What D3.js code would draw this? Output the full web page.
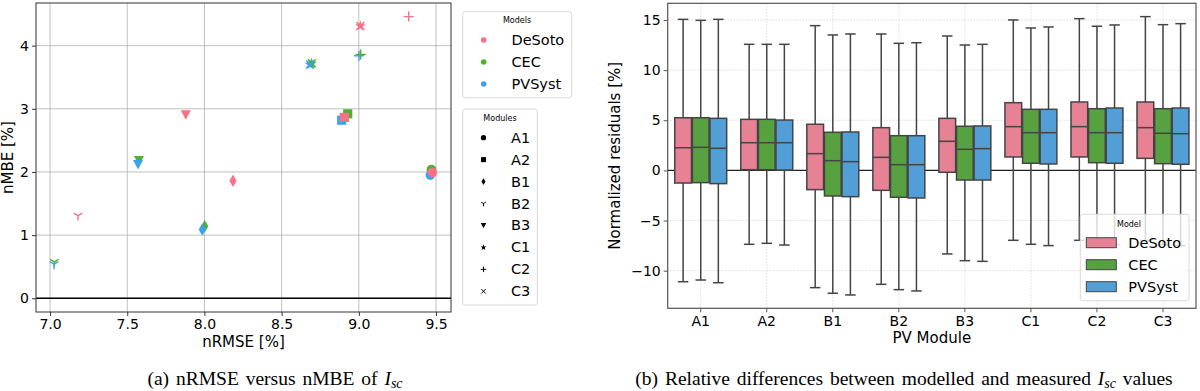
<!DOCTYPE html>
<html><head><meta charset="utf-8">
<script src="https://cdn.jsdelivr.net/npm/d3@7"></script>
<style>
html,body{margin:0;padding:0;background:#fff;}
svg{display:block;}
text{font-family:"DejaVu Sans",sans-serif;}
text.cap{font-family:"Liberation Serif","Times New Roman",serif;}
</style></head><body>
<svg id="chart" width="1200" height="391"></svg>
<script>
// ---------- DATA ----------
const modules = ["A1","A2","B1","B2","B3","C1","C2","C3"];
const models = ["DeSoto","CEC","PVSyst"];

// Left panel: nRMSE vs nMBE
const nrmseDeSoto = [9.476, 8.906, 8.185, 7.181, 7.879, 9.010, 9.323, 9.010];
const nmbeDeSoto  = [1.99, 2.864, 1.86, 1.31, 2.905, 4.31, 4.46, 4.31];
const nrmseCEC    = [9.470, 8.928, 8.002, 7.028, 7.576, 8.695, 9.012, 8.695];
const nmbeCEC     = [2.04, 2.92, 1.14, 0.575, 2.18, 3.72, 3.86, 3.72];
const nrmsePVSyst = [9.463, 8.889, 7.986, 7.026, 7.570, 8.684, 9.001, 8.684];
const nmbePVSyst  = [1.95, 2.82, 1.09, 0.54, 2.12, 3.70, 3.84, 3.70];
const xTicksLeft = [7.0, 7.5, 8.0, 8.5, 9.0, 9.5];
const yTicksLeft = [0, 1, 2, 3, 4];

// Right panel: box plot statistics per module
const whisLoDeSoto = [-11.1, -7.37, -11.69, -11.36, -8.33, -6.97, -6.97, -7.0];
const q1DeSoto     = [-1.26, 0.07, -1.92, -1.99, -0.19, 1.34, 1.34, 1.2];
const medDeSoto    = [2.26, 2.76, 1.67, 1.3, 2.9, 4.36, 4.36, 4.26];
const q3DeSoto     = [5.25, 5.09, 4.6, 4.26, 5.19, 6.75, 6.82, 6.82];
const whisHiDeSoto = [15.06, 12.57, 14.43, 13.6, 13.4, 15.0, 15.13, 15.33];

const whisLoCEC = [-10.93, -7.27, -12.25, -11.89, -9.0, -7.37, -7.3, -7.4];
const q1CEC     = [-1.22, 0.07, -2.55, -2.68, -0.96, 0.71, 0.77, 0.67];
const medCEC    = [2.3, 2.76, 0.97, 0.57, 2.1, 3.76, 3.76, 3.7];
const q3CEC     = [5.25, 5.09, 3.8, 3.46, 4.4, 6.09, 6.15, 6.15];
const whisHiCEC = [14.96, 12.57, 13.5, 12.67, 12.5, 14.2, 14.37, 14.53];

const whisLoPVSyst = [-11.2, -7.44, -12.42, -12.02, -9.07, -7.5, -7.4, -7.5];
const q1PVSyst     = [-1.32, 0.03, -2.62, -2.75, -0.96, 0.64, 0.71, 0.61];
const medPVSyst    = [2.2, 2.76, 0.87, 0.57, 2.17, 3.76, 3.76, 3.66];
const q3PVSyst     = [5.19, 5.02, 3.83, 3.46, 4.43, 6.09, 6.22, 6.22];
const whisHiPVSyst = [15.06, 12.57, 13.6, 12.73, 12.57, 14.3, 14.5, 14.63];
const yTicksRight = [-10, -5, 0, 5, 10, 15];

// ---------- STYLE ----------
const pointColor = {DeSoto:"#f77189", CEC:"#50b131", PVSyst:"#3ba3ec"};
const boxColor = {DeSoto:"#e68294", CEC:"#58a141", PVSyst:"#519fd6"};

const svg = d3.select("#chart");

// ================= LEFT PANEL =================
const L = {left:36, right:451, top:3, bottom:312};
const xL = d3.scaleLinear().domain([6.909, 9.597]).range([L.left, L.right]);
const yL = d3.scaleLinear().domain([-0.217, 4.675]).range([L.bottom, L.top]);
const gL = svg.append("g");

// grid
gL.append("g").selectAll("line").data(xTicksLeft).join("line")
  .attr("x1", d=>xL(d)).attr("x2", d=>xL(d)).attr("y1", L.top).attr("y2", L.bottom)
  .attr("stroke", "#b0b0b0").attr("stroke-width", 0.8);
gL.append("g").selectAll("line").data(yTicksLeft).join("line")
  .attr("x1", L.left).attr("x2", L.right).attr("y1", d=>yL(d)).attr("y2", d=>yL(d))
  .attr("stroke", "#b0b0b0").attr("stroke-width", 0.8);
// zero line
gL.append("line").attr("x1", L.left).attr("x2", L.right).attr("y1", yL(0)).attr("y2", yL(0))
  .attr("stroke", "#000").attr("stroke-width", 1.4);

// axes
const axXL = gL.append("g").attr("transform", `translate(0,${L.bottom})`)
  .call(d3.axisBottom(xL).tickValues(xTicksLeft).tickFormat(d3.format(".1f")).tickSize(4).tickPadding(3));
const axYL = gL.append("g").attr("transform", `translate(${L.left},0)`)
  .call(d3.axisLeft(yL).tickValues(yTicksLeft).tickFormat(d3.format("d")).tickSize(4).tickPadding(3));
[axXL, axYL].forEach(a => {
  a.select(".domain").remove();
  a.selectAll("text").attr("font-size", 14).attr("fill", "#000");
  a.selectAll("line").attr("stroke", "#333");
});
gL.append("rect").attr("x", L.left).attr("y", L.top).attr("width", L.right-L.left).attr("height", L.bottom-L.top)
  .attr("fill", "none").attr("stroke", "#333").attr("stroke-width", 1);

gL.append("text").attr("x", (L.left+L.right)/2).attr("y", 347).attr("text-anchor", "middle")
  .attr("font-size", 15).text("nRMSE [%]");
gL.append("text").attr("transform", `translate(13,${(L.top+L.bottom)/2}) rotate(-90)`).attr("text-anchor", "middle")
  .attr("font-size", 15).text("nMBE [%]");

// marker shapes
function markerPath(mod, s) {
  const p = d3.path();
  switch (mod) {
    case "A1": p.arc(0,0,4.8*s,0,2*Math.PI); break;
    case "A2": p.rect(-4.6*s,-4.6*s,9.2*s,9.2*s); break;
    case "B1": p.moveTo(0,-6.2*s); p.lineTo(3.6*s,0); p.lineTo(0,6.2*s); p.lineTo(-3.6*s,0); p.closePath(); break;
    case "B3": p.moveTo(-5*s,-4.5*s); p.lineTo(5*s,-4.5*s); p.lineTo(0,5*s); p.closePath(); break;
    case "C1": {
      for (let i=0;i<10;i++){
        const r = (i%2===0)?5.6*s:2.3*s;
        const a = -Math.PI/2 + i*Math.PI/5;
        if(i===0) p.moveTo(r*Math.cos(a), r*Math.sin(a)); else p.lineTo(r*Math.cos(a), r*Math.sin(a));
      }
      p.closePath(); break;
    }
    default: break;
  }
  return p.toString();
}
function linePath(mod, s) {
  const p = d3.path();
  if (mod === "B2") {
    const r = 5*s;
    p.moveTo(0,0); p.lineTo(0,r);
    p.moveTo(0,0); p.lineTo(-r*0.866,-r*0.5);
    p.moveTo(0,0); p.lineTo(r*0.866,-r*0.5);
  } else if (mod === "C2") {
    const r = 5*s;
    p.moveTo(-r,0); p.lineTo(r,0); p.moveTo(0,-r); p.lineTo(0,r);
  } else if (mod === "C3") {
    const r = 4*s;
    p.moveTo(-r,-r); p.lineTo(r,r); p.moveTo(-r,r); p.lineTo(r,-r);
  }
  return p.toString();
}
const lineMods = ["B2","C2","C3"];
function drawMarker(g, mod, x, y, color, s) {
  if (lineMods.includes(mod)) {
    g.append("path").attr("d", linePath(mod, s)).attr("transform", `translate(${x},${y})`)
      .attr("fill", "none").attr("stroke", color).attr("stroke-width", 1.4*Math.max(s,0.7));
  } else {
    g.append("path").attr("d", markerPath(mod, s)).attr("transform", `translate(${x},${y})`)
      .attr("fill", color).attr("stroke", "none");
  }
}

const pts = [
  {model:"CEC", xs:nrmseCEC, ys:nmbeCEC},
  {model:"PVSyst", xs:nrmsePVSyst, ys:nmbePVSyst},
  {model:"DeSoto", xs:nrmseDeSoto, ys:nmbeDeSoto}
];
const gPts = gL.append("g");
modules.forEach((m, i) => {
  pts.forEach(s => drawMarker(gPts, m, xL(s.xs[i]), yL(s.ys[i]), pointColor[s.model], 1));
});

// Models legend
const lg1 = svg.append("g");
lg1.append("rect").attr("x", 462.7).attr("y", 11.7).attr("width", 109).attr("height", 86).attr("rx", 2.5)
  .attr("fill", "#fff").attr("stroke", "#d9d9d9").attr("stroke-width", 1);
lg1.append("text").attr("x", 517).attr("y", 23).attr("text-anchor", "middle").attr("font-size", 8).text("Models");
models.forEach((m, i) => {
  const y = 40 + i*22;
  lg1.append("circle").attr("cx", 483.7).attr("cy", y).attr("r", 2.8).attr("fill", pointColor[m]);
  lg1.append("text").attr("x", 511.5).attr("y", y+5).attr("font-size", 14.5).text(m);
});
// Modules legend
const lg2 = svg.append("g");
lg2.append("rect").attr("x", 462.7).attr("y", 109).attr("width", 74.6).attr("height", 196).attr("rx", 2.5)
  .attr("fill", "#fff").attr("stroke", "#d9d9d9").attr("stroke-width", 1);
lg2.append("text").attr("x", 500).attr("y", 120.5).attr("text-anchor", "middle").attr("font-size", 8).text("Modules");
modules.forEach((m, i) => {
  const y = 137.7 + i*21.94;
  drawMarker(lg2, m, 483.5, y, "#000", 0.55);
  lg2.append("text").attr("x", 511).attr("y", y+5).attr("font-size", 14.5).text(m);
});

// ================= RIGHT PANEL =================
const R = {left:667.7, right:1196, top:3.3, bottom:308.3};
const xR = d3.scaleBand().domain(modules).range([R.left, R.right]).padding(0);
const yR = d3.scaleLinear().domain([-13.75, 16.66]).range([R.bottom, R.top]);
const hue = d3.scaleBand().domain(models).range([-0.4*xR.bandwidth(), 0.4*xR.bandwidth()]).padding(0);
const gR = svg.append("g");

// dotted grid
gR.append("g").selectAll("line").data(modules).join("line")
  .attr("x1", d=>xR(d)+xR.bandwidth()/2).attr("x2", d=>xR(d)+xR.bandwidth()/2)
  .attr("y1", R.top).attr("y2", R.bottom)
  .attr("stroke", "#d4d4d4").attr("stroke-width", 0.8).attr("stroke-dasharray", "1.5,1.5");
gR.append("g").selectAll("line").data(yTicksRight).join("line")
  .attr("x1", R.left).attr("x2", R.right).attr("y1", d=>yR(d)).attr("y2", d=>yR(d))
  .attr("stroke", "#d4d4d4").attr("stroke-width", 0.8).attr("stroke-dasharray", "1.5,1.5");
gR.append("line").attr("x1", R.left).attr("x2", R.right).attr("y1", yR(0)).attr("y2", yR(0))
  .attr("stroke", "#222").attr("stroke-width", 1.2);

const stats = {
  DeSoto:{lo:whisLoDeSoto, q1:q1DeSoto, med:medDeSoto, q3:q3DeSoto, hi:whisHiDeSoto},
  CEC:{lo:whisLoCEC, q1:q1CEC, med:medCEC, q3:q3CEC, hi:whisHiCEC},
  PVSyst:{lo:whisLoPVSyst, q1:q1PVSyst, med:medPVSyst, q3:q3PVSyst, hi:whisHiPVSyst}
};
const edge = "#444";
const bw = hue.bandwidth()*0.95;
const capW = 10.5;
const gBox = gR.append("g");
modules.forEach((mod, i) => {
  models.forEach(m => {
    const s = stats[m];
    const cx = xR(mod) + xR.bandwidth()/2 + hue(m) + hue.bandwidth()/2;
    gBox.append("line").attr("x1", cx).attr("x2", cx).attr("y1", yR(s.q3[i])).attr("y2", yR(s.hi[i]))
      .attr("stroke", edge).attr("stroke-width", 1.5);
    gBox.append("line").attr("x1", cx).attr("x2", cx).attr("y1", yR(s.q1[i])).attr("y2", yR(s.lo[i]))
      .attr("stroke", edge).attr("stroke-width", 1.5);
    gBox.append("line").attr("x1", cx-capW/2).attr("x2", cx+capW/2).attr("y1", yR(s.hi[i])).attr("y2", yR(s.hi[i]))
      .attr("stroke", edge).attr("stroke-width", 1.5);
    gBox.append("line").attr("x1", cx-capW/2).attr("x2", cx+capW/2).attr("y1", yR(s.lo[i])).attr("y2", yR(s.lo[i]))
      .attr("stroke", edge).attr("stroke-width", 1.5);
    gBox.append("rect").attr("x", cx-bw/2).attr("y", yR(s.q3[i])).attr("width", bw)
      .attr("height", yR(s.q1[i]) - yR(s.q3[i]))
      .attr("fill", boxColor[m]).attr("stroke", edge).attr("stroke-width", 1.5);
    gBox.append("line").attr("x1", cx-bw/2).attr("x2", cx+bw/2).attr("y1", yR(s.med[i])).attr("y2", yR(s.med[i]))
      .attr("stroke", edge).attr("stroke-width", 1.5);
  });
});

const axXR = gR.append("g").attr("transform", `translate(0,${R.bottom})`)
  .call(d3.axisBottom(xR).tickSize(4).tickPadding(4));
const axYR = gR.append("g").attr("transform", `translate(${R.left},0)`)
  .call(d3.axisLeft(yR).tickValues(yTicksRight).tickFormat(d => d < 0 ? "\u2212" + Math.abs(d) : d).tickSize(4).tickPadding(3));
[axXR, axYR].forEach(a => {
  a.select(".domain").remove();
  a.selectAll("text").attr("font-size", 14).attr("fill", "#000");
  a.selectAll("line").attr("stroke", "#555");
});
gR.append("rect").attr("x", R.left).attr("y", R.top).attr("width", R.right-R.left).attr("height", R.bottom-R.top)
  .attr("fill", "none").attr("stroke", "#555").attr("stroke-width", 1.2);

gR.append("text").attr("x", (R.left+R.right)/2).attr("y", 343).attr("text-anchor", "middle")
  .attr("font-size", 15).text("PV Module");
gR.append("text").attr("transform", `translate(620,${(R.top+R.bottom)/2}) rotate(-90)`).attr("text-anchor", "middle")
  .attr("font-size", 15).text("Normalized residuals [%]");

// Model legend
const lg3 = svg.append("g");
lg3.append("rect").attr("x", 1080.3).attr("y", 214.3).attr("width", 108.7).attr("height", 86.4).attr("rx", 2.5)
  .attr("fill", "#fff").attr("fill-opacity", 0.8).attr("stroke", "#d9d9d9").attr("stroke-width", 1);
lg3.append("text").attr("x", 1129).attr("y", 227).attr("text-anchor", "middle").attr("font-size", 8).text("Model");
models.forEach((m, i) => {
  const y = 242.7 + i*22;
  lg3.append("rect").attr("x", 1086.3).attr("y", y-5).attr("width", 30).attr("height", 10)
    .attr("fill", boxColor[m]).attr("stroke", edge).attr("stroke-width", 1);
  lg3.append("text").attr("x", 1128.3).attr("y", y+5.5).attr("font-size", 14.5).text(m);
});

// ================= CAPTIONS =================
function caption(x, pre, post) {
  const t = svg.append("text").attr("class", "cap").attr("x", x).attr("y", 385).attr("text-anchor", "middle")
    .attr("font-size", 19.5).attr("fill", "#000").attr("word-spacing", 2);
  t.append("tspan").text(pre);
  t.append("tspan").attr("font-style", "italic").text("I");
  t.append("tspan").attr("font-style", "italic").attr("font-size", 14).attr("dy", 3).text("sc");
  if (post) t.append("tspan").attr("dy", -3).text(post);
}
caption(275, "(a) nRMSE versus nMBE of ", null);
caption(904, "(b) Relative differences between modelled and measured ", " values");
</script>
</body></html>
